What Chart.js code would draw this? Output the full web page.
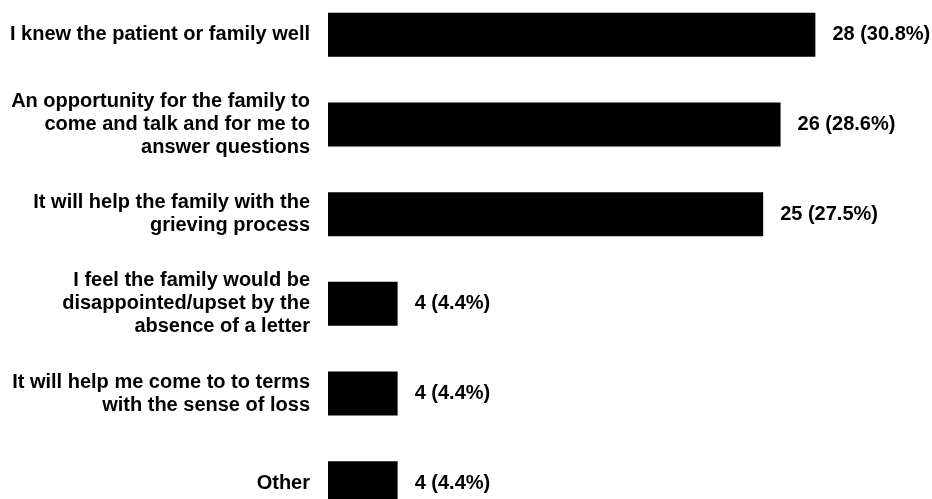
<!DOCTYPE html>
<html lang="en">
<head>
  <meta charset="UTF-8">
  <title>Reasons for writing a letter</title>
  <script src="https://cdn.jsdelivr.net/npm/chart.js"></script>
  <style>
    html, body {
      margin: 0;
      padding: 0;
      background: #fff;
      overflow: hidden;
    }
    /* chart is a bit taller than the window, top and bottom are cut like in the original */
    #wrap {
      position: absolute;
      left: 0;
      top: -10px;
      width: 932px;
      height: 538px;
    }
  </style>
</head>
<body>
  <div id="wrap"><canvas id="reasonsChart"></canvas></div>

  <script>
    const categories = [
      ["I knew the patient or family well"],
      ["An opportunity for the family to", "come and talk and for me to", "answer questions"],
      ["It will help the family with the", "grieving process"],
      ["I feel the family would be", "disappointed/upset by the", "absence of a letter"],
      ["It will help me come to to terms", "with the sense of loss"],
      ["Other"]
    ];
    const counts = [28, 26, 25, 4, 4, 4];
    const percents = ["30.8%", "28.6%", "27.5%", "4.4%", "4.4%", "4.4%"];

    const labelFont = { family: "'Liberation Sans', Arial, sans-serif", size: 20, weight: "bold", lineHeight: 1.15 };

    // writes "n (p%)" just right of each bar
    const valueLabels = {
      id: "valueLabels",
      afterDatasetsDraw(chart) {
        const ctx = chart.ctx;
        const meta = chart.getDatasetMeta(0);
        ctx.save();
        ctx.fillStyle = "#000";
        ctx.font = "bold 20px 'Liberation Sans', Arial, sans-serif";
        ctx.textAlign = "left";
        ctx.textBaseline = "middle";
        meta.data.forEach((bar, i) => {
          const { x, y } = bar.getProps(["x", "y"], true);
          ctx.fillText(counts[i] + " (" + percents[i] + ")", x + 17, y);
        });
        ctx.restore();
      }
    };

    new Chart(document.getElementById("reasonsChart"), {
      type: "bar",
      data: {
        labels: categories,
        datasets: [{
          data: counts,
          backgroundColor: "#000",
          borderWidth: 0,
          barPercentage: 0.49,
          categoryPercentage: 1
        }]
      },
      options: {
        indexAxis: "y",
        responsive: true,
        maintainAspectRatio: false,
        animation: false,
        layout: { padding: 0 },
        plugins: {
          legend: { display: false },
          tooltip: { enabled: false }
        },
        scales: {
          x: {
            display: false,
            min: 0,
            max: 34.7
          },
          y: {
            grid: { display: false, drawTicks: false },
            border: { display: false },
            ticks: {
              color: "#000",
              font: labelFont,
              padding: 18,
              autoSkip: false
            },
            afterFit(scale) {
              scale.width = 328;
              // no extra room above/below for the labels, bands fill the whole height
              scale.paddingTop = 0;
              scale.paddingBottom = 0;
            }
          }
        }
      },
      plugins: [valueLabels]
    });
  </script>
</body>
</html>
